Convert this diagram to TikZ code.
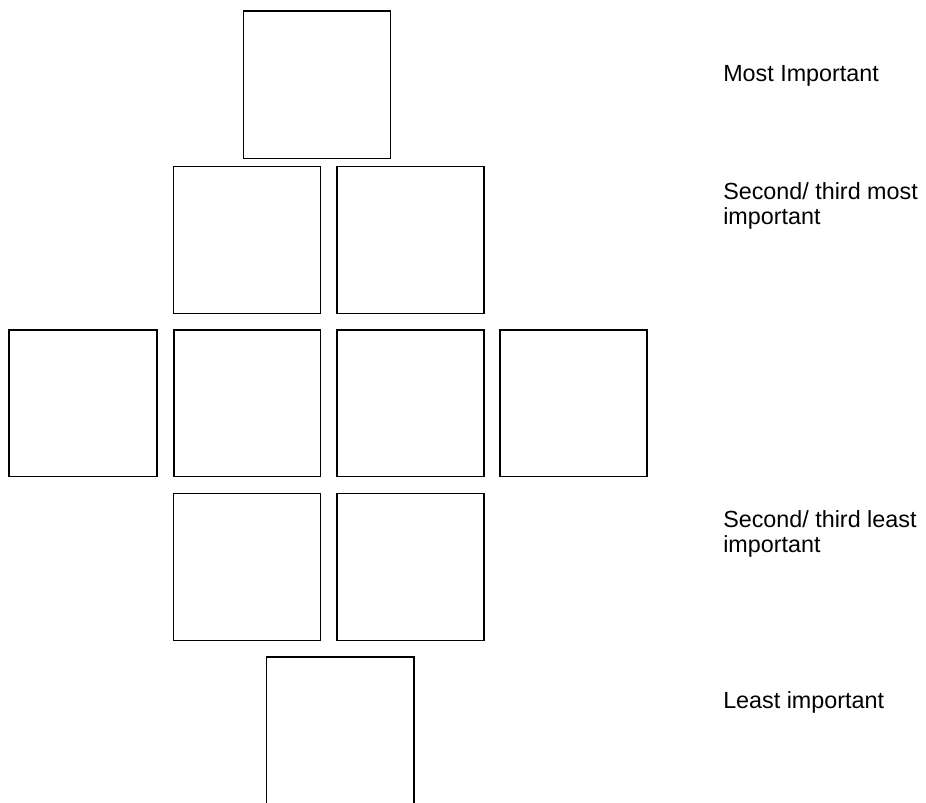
\documentclass[tikz,border=0pt]{standalone}
\usepackage{fontspec}
\setmainfont{Liberation Sans}
\begin{document}
\begin{tikzpicture}[x=0.75pt,y=-0.75pt,
  cell/.style={draw=black,line width=1.1pt,fill=none},
  lbl/.style={anchor=base west,inner sep=0pt,align=left,font=\fontsize{17.5}{18.75}\selectfont}]
\useasboundingbox (0,0) rectangle (926,803);
\clip (0,0) rectangle (926,803);
% top
\draw[cell] (243.5,11) rectangle (390.5,158.5);
% row 2
\draw[cell] (173.5,166.5) rectangle (320.5,313.5);
\draw[cell] (337,166.5) rectangle (484,313.5);
% row 3
\draw[cell] (9,330) rectangle (157,476.5);
\draw[cell] (174,330) rectangle (320.5,476.5);
\draw[cell] (337,330) rectangle (484,476.5);
\draw[cell] (500,330) rectangle (647,476.5);
% row 4
\draw[cell] (173.5,493.5) rectangle (320.5,640.5);
\draw[cell] (337,493.5) rectangle (484,640.5);
% bottom
\draw[cell] (266.5,657) rectangle (414,830);
% labels
\node[lbl] (l1) at (723,81) {Most Important};
\node[lbl] (l2) at (723,224) {Second/ third most\\important};
\node[lbl] (l3) at (723,552) {Second/ third least\\important};
\node[lbl] (l4) at (723,708) {Least important};
\end{tikzpicture}
\end{document}
